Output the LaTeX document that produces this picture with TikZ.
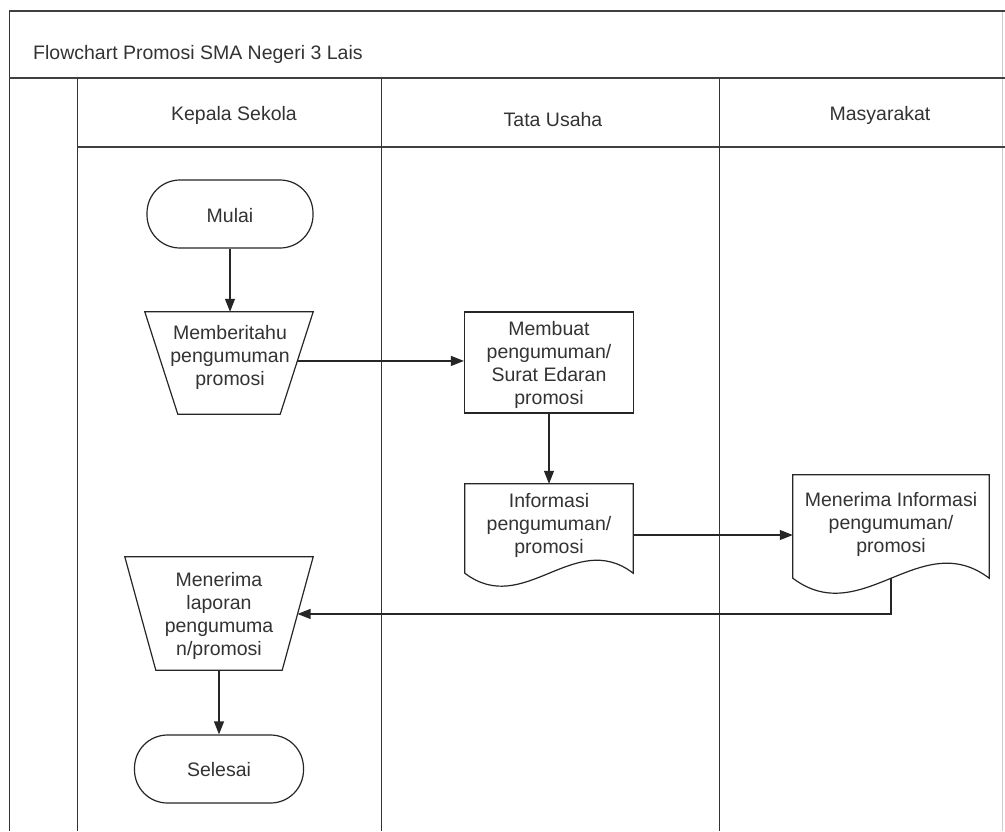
\documentclass[tikz,border=0pt]{standalone}
\usepackage{fontspec}
\setmainfont{Liberation Sans}
\usetikzlibrary{arrows.meta,calc}
\begin{document}
\begin{tikzpicture}[x=1pt,y=-1pt,
  frame/.style={draw=black!80, line width=1pt},
  heavyframe/.style={draw=black!75, line width=1.7pt},
  txt/.style={font=\fontsize{19.5}{23}\selectfont, text=black!80, align=center, inner sep=0pt},
  box/.style={draw=black!85, line width=1.2pt, fill=white},
  ghost/.style={draw=none, inner sep=0pt},
  arr/.style={draw=black!85, line width=1.2pt, -{Triangle[length=13pt,width=10pt]}}
]
\fill[white] (0,0) rectangle (1005,831);
\useasboundingbox (0,0) rectangle (1005,831);

% pool frame
\draw[draw=black!20, line width=1pt] (1002,11) -- (1002,831);
\draw[heavyframe] (9,11) -- (1005,11);
\draw[frame] (9,11) -- (9,831);
\draw[heavyframe] (9,78) -- (1005,78);
\draw[frame] (77,78) -- (77,831);
\draw[heavyframe] (77,147) -- (1005,147);
\draw[frame] (381,78) -- (381,831);
\draw[frame] (719,78) -- (719,831);

% titles
\node[txt, anchor=base west] (title) at (33,59) {Flowchart Promosi SMA Negeri 3 Lais};
\node[txt, anchor=base] (h1) at (234,120) {Kepala Sekola};
\node[txt, anchor=base] (h2) at (553,126) {Tata Usaha};
\node[txt, anchor=base] (h3) at (880,120) {Masyarakat};

% Mulai
\node[box, rounded corners=33pt, minimum width=166pt, minimum height=68pt] (mulai) at (230,214) {};
\node[txt] (mulaitext) at (230,216) {Mulai};

% Memberitahu (manual operation)
\node[ghost, minimum width=168pt, minimum height=102pt] (mb) at (229,363) {};
\draw[box] (mb.north west) -- (mb.north east) -- ([xshift=-33pt]mb.south east) -- ([xshift=33pt]mb.south west) -- cycle;
\node[txt] (mbtext) at (230,357) {Memberitahu\\pengumuman\\promosi};
\coordinate (mbr) at ($(mb.north east)!0.48!([xshift=-33pt]mb.south east)$);

% Membuat
\node[box, minimum width=169pt, minimum height=101pt] (membuat) at (549,362.5) {};
\node[txt] (membuattext) at (549,365) {Membuat\\pengumuman/\\Surat Edaran\\promosi};

% Informasi (document)
\node[ghost, minimum width=168pt, minimum height=89pt] (info) at (549,528.5) {};
\draw[box] (info.south west) -- (info.north west) -- (info.north east) -- (info.south east)
  .. controls ($(info.south east)+(-58.8,-45)$) and ($(info.south east)+(-109.2,45)$) .. (info.south west) -- cycle;
\node[txt] (infotext) at (549,525) {Informasi\\pengumuman/\\promosi};

% Menerima Informasi (document)
\node[ghost, minimum width=196pt, minimum height=103pt] (men) at (891,526.5) {};
\draw[box] (men.south west) -- (men.north west) -- (men.north east) -- (men.south east)
  .. controls ($(men.south east)+(-68.6,-52)$) and ($(men.south east)+(-127.4,52)$) .. (men.south west) -- cycle;
\node[txt] (mentext) at (891,524) {Menerima Informasi\\pengumuman/\\promosi};

% Menerima laporan (manual operation)
\node[ghost, minimum width=188pt, minimum height=113pt] (lap) at (219,613.5) {};
\draw[box] (lap.north west) -- (lap.north east) -- ([xshift=-31pt]lap.south east) -- ([xshift=31pt]lap.south west) -- cycle;
\node[txt] (laptext) at (219,616) {Menerima\\laporan\\pengumuma\\n/promosi};
\coordinate (lapr) at ($(lap.north east)!0.504!([xshift=-31pt]lap.south east)$);

% Selesai
\node[box, rounded corners=33pt, minimum width=169pt, minimum height=68pt] (selesai) at (219,769) {};
\node[txt] (selesaitext) at (219,770) {Selesai};

% connectors
\draw[arr] (mulai.south) -- (mulai.south |- mb.north);
\draw[arr] (mbr) -- (mbr -| membuat.west);
\draw[arr] (membuat.south) -- (info.north);
\draw[arr] ([yshift=-6.5pt]info.east) -- ([yshift=-6.5pt]info.east -| men.west);
\draw[arr] (men.south) |- (lapr);
\draw[arr] (lap.south) -- (selesai.north);
\end{tikzpicture}
\end{document}
